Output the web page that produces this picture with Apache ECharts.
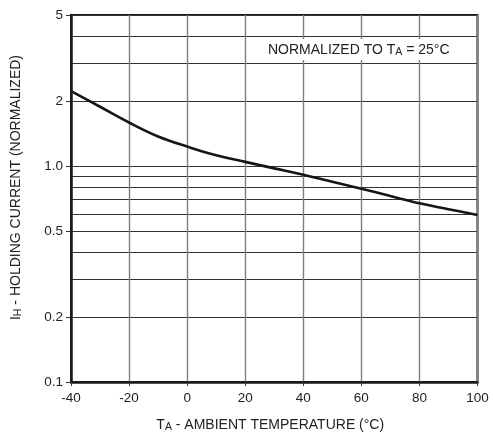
<!DOCTYPE html>
<html>
<head>
<meta charset="utf-8">
<script src="https://cdn.jsdelivr.net/npm/echarts@6/dist/echarts.min.js"></script>
<style>
html,body{margin:0;padding:0;background:#fff;}
#c{width:493px;height:436px;}
</style>
</head>
<body>
<div id="c"></div>
<script>
var temperatures = [-40, -30, -20, -10, 0, 10, 20, 30, 40, 50, 60, 70, 80, 90, 100];
var holdingCurrent = [2.22, 1.88, 1.59, 1.37, 1.23, 1.12, 1.045, 0.975, 0.91, 0.845, 0.785, 0.726, 0.672, 0.631, 0.593];
var yGridValues = [0.1, 0.2, 0.3, 0.4, 0.5, 0.6, 0.7, 0.8, 0.9, 1, 2, 3, 4, 5];
var yLabelValues = [0.1, 0.2, 0.5, 1, 2, 5];
var yLabelText = {0.1: '0.1', 0.2: '0.2', 0.5: '0.5', 1: '1.0', 2: '2', 5: '5'};

var FONT = '"Liberation Sans", Arial, Helvetica, sans-serif';
var TXT = '#222';
var richTitle = {
  m: { fontFamily: FONT, fontSize: 14, color: TXT, lineHeight: 16 },
  s: { fontFamily: FONT, fontSize: 10.5, color: TXT, lineHeight: 10, verticalAlign: 'bottom', padding: [10, 0, 0, 0] }
};

var chart = echarts.init(document.getElementById('c'));
var seriesData = temperatures.map(function (t, i) { return [t, holdingCurrent[i]]; });

chart.setOption({
  animation: false,
  backgroundColor: '#fff',
  grid: { left: 71, right: 15.5, top: 15, bottom: 54, outerBoundsMode: 'none', containLabel: false,
          show: true, borderColor: '#1a1a1a', borderWidth: 2, backgroundColor: 'transparent' },
  xAxis: {
    type: 'value', min: -40, max: 100, interval: 20,
    name: '{m|T}{s|A}{m| - AMBIENT TEMPERATURE (°C)}',
    nameLocation: 'middle', nameGap: 35,
    nameTextStyle: { rich: richTitle, padding: [0, 8, 0, 0] },
    axisLine: { show: true, onZero: false, lineStyle: { color: '#1a1a1a', width: 2.5 } },
    axisTick: { show: true, inside: false, length: 4, lineStyle: { color: '#333', width: 1 } },
    axisLabel: { fontFamily: FONT, fontSize: 13.5, color: TXT, margin: 9 },
    splitLine: { show: true, lineStyle: { color: '#808080', width: 1.4 } }
  },
  yAxis: [{
    type: 'log', min: 0.1, max: 5, logBase: 10,
    name: '{m|I}{s|H}{m| - HOLDING CURRENT (NORMALIZED)}',
    nameLocation: 'middle', nameGap: 47, nameRotate: 90,
    nameTextStyle: { rich: richTitle, padding: [0, 0, 0, 22] },
    axisLine: { show: true, onZero: false, lineStyle: { color: '#1a1a1a', width: 2.5 } },
    axisTick: { show: false, customValues: yGridValues },
    axisLabel: { show: false },
    splitLine: { show: true, lineStyle: { color: '#333', width: 1 } }
  }, {
    type: 'log', min: 0.1, max: 5, logBase: 10, position: 'left',
    axisLine: { show: false, onZero: false },
    axisTick: { show: true, inside: false, length: 5, customValues: yLabelValues, lineStyle: { color: '#333', width: 1 } },
    axisLabel: {
      show: true, customValues: yLabelValues, fontFamily: FONT, fontSize: 13.5, color: TXT, margin: 8,
      formatter: function (v) { var k = Math.round(v * 10) / 10; return yLabelText[k] !== undefined ? yLabelText[k] : ''; }
    },
    splitLine: { show: false }
  }],
  series: [{
    type: 'line', data: seriesData, yAxisIndex: 0,
    smooth: 0.4, showSymbol: false, symbol: 'none',
    lineStyle: { color: '#161616', width: 2.6 },
    z: 5
  }],
  graphic: [{
    type: 'text', left: 262, top: 37, z: 10,
    style: {
      text: '{m|NORMALIZED TO T}{s|A}{m| = 25°C}',
      backgroundColor: '#fff',
      padding: [3, 6, 2, 6],
      rich: {
        m: { fontFamily: FONT, fontSize: 14, fill: TXT, lineHeight: 16 },
        s: { fontFamily: FONT, fontSize: 10.5, fill: TXT, lineHeight: 10, verticalAlign: 'bottom', padding: [10, 0, 0, 0] }
      }
    }
  }]
});
</script>
</body>
</html>
